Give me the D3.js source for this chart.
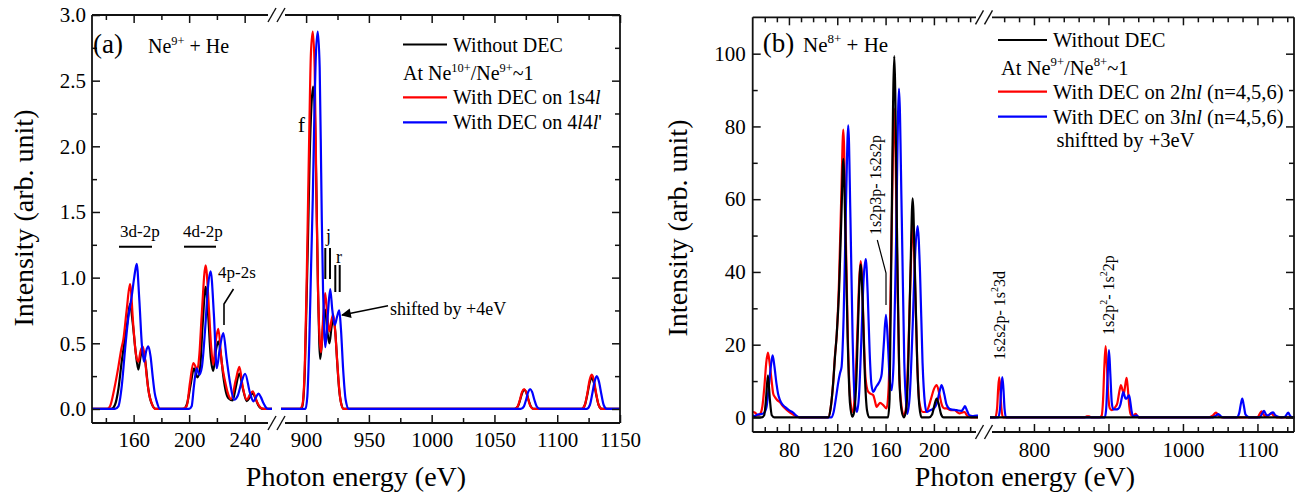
<!DOCTYPE html>
<html>
<head>
<meta charset="utf-8">
<script src="https://cdn.jsdelivr.net/npm/d3@7"></script>
</head>
<body style="margin:0;background:#fff">
<svg id="chart" width="1303" height="495"></svg>
<script>
// ---------- Panel (a): Ne9+ + He, spectra as [photon energy eV, intensity] ----------
const aBlackLow = [[130,0],[144,0],[146.5,0.03],[149,0.15],[151.4,0.36],[153.5,0.52],[155.5,0.66],[157.4,0.80],[159.3,0.66],[161.3,0.45],[163.4,0.30],[165,0.40],[166.5,0.45],[168.3,0.37],[170.6,0.15],[173,0.04],[176,0],
  [196,0],[198.5,0.04],[201,0.18],[203.5,0.31],[205.9,0.24],[207.8,0.3],[209.6,0.62],[211.9,0.93],[213.8,0.7],[215.5,0.4],[217.4,0.29],[219.2,0.44],[221,0.515],[222.8,0.42],[224.6,0.25],[226.5,0.13],[228.5,0.08],[231.4,0.065],[233.5,0.16],[236.2,0.27],[238.6,0.16],[241.5,0.06],[243.8,0.09],[245.8,0.12],[247.8,0.08],[250,0.025],[253,0],[262,0]];
const aRedLow = [[130,0],[141,0],[143,0.02],[146,0.15],[149,0.32],[151,0.45],[152.6,0.53],[155,0.755],[157.4,0.95],[159.8,0.63],[161.6,0.42],[163.4,0.36],[165,0.44],[166.5,0.476],[168,0.4],[169.4,0.25],[171.2,0.11],[173,0.045],[175.5,0],
  [195,0],[198.2,0.02],[200.6,0.2],[203,0.35],[205.9,0.3],[207.4,0.42],[209,0.705],[211.9,1.093],[214.3,0.755],[215.8,0.48],[217.4,0.337],[219.2,0.52],[221,0.61],[223.5,0.35],[225.9,0.21],[227.9,0.12],[230.2,0.075],[233.6,0.22],[236.2,0.32],[238.6,0.17],[241.5,0.07],[243.8,0.11],[245.8,0.134],[248.7,0.058],[251.5,0.01],[254,0],[262,0]];
const aBlueLow = [[130,0],[146.5,0],[149,0.02],[151.5,0.18],[153.8,0.45],[156.2,0.7],[158.6,0.857],[160.4,1.0],[162.2,1.105],[164.1,0.83],[166,0.48],[167.5,0.36],[169,0.44],[170.6,0.476],[172.2,0.4],[173.7,0.25],[175.2,0.12],[176.6,0.058],[179,0],
  [200,0],[201.8,0.02],[203.5,0.18],[205.4,0.31],[207.3,0.26],[209.2,0.32],[211.6,0.62],[213.6,0.93],[215.5,1.047],[217.9,0.705],[219.9,0.31],[222.2,0.47],[224.6,0.578],[227.1,0.375],[229.5,0.198],[232.4,0.07],[235,0.1],[237.9,0.21],[240.3,0.268],[243.9,0.12],[246.3,0.058],[248.2,0.09],[249.9,0.116],[251.7,0.09],[253.5,0.045],[255.5,0.01],[257,0],[262,0]];

const aBlackHigh = [[880,0],[895.5,0],[897,0.02],[899,0.3],[900.3,0.8],[901.5,1.3],[902.8,1.9],[904.2,2.3],[905.6,2.455],[907,2.25],[908.3,1.6],[909.5,0.9],[910.5,0.5],[911.2,0.38],[912.5,0.5],[914,0.7],[915.2,0.756],[916.8,0.6],[918.6,0.5],[920.2,0.62],[921.8,0.69],[923.3,0.58],[924.8,0.35],[926.3,0.15],[928,0.04],[930,0],
  [1066,0],[1068.7,0.02],[1070.5,0.07],[1072.2,0.125],[1073.8,0.145],[1075.4,0.125],[1077.1,0.07],[1078.9,0.02],[1081,0],
  [1119.5,0],[1122,0.03],[1124,0.11],[1125.8,0.2],[1127.5,0.24],[1129.2,0.2],[1131,0.11],[1133,0.03],[1135.5,0],[1150,0]];
const aRedHigh = [[880,0],[895,0],[897,0.03],[899,0.35],[900.3,0.9],[901.3,1.44],[902.5,2.1],[903.8,2.7],[905.3,2.874],[906.8,2.6],[908,1.8],[908.5,1.44],[909.5,0.9],[910.7,0.55],[911.9,0.43],[913.5,0.68],[915.2,0.883],[916.8,0.72],[918.6,0.59],[920.1,0.67],[921.6,0.72],[923.1,0.6],[924.5,0.4],[925.8,0.22],[927.5,0.06],[929.8,0],
  [1066,0],[1068.5,0.02],[1070.3,0.07],[1072,0.13],[1073.6,0.152],[1075.2,0.13],[1077,0.07],[1078.7,0.02],[1081,0],
  [1119.5,0],[1122,0.03],[1124,0.12],[1125.8,0.22],[1127.5,0.261],[1129.2,0.22],[1131,0.12],[1133,0.03],[1135.5,0],[1150,0]];
const aBlueHigh = [[880,0],[899.5,0],[901,0.1],[902.5,0.5],[904,1.1],[905.3,1.6],[906.5,2.2],[907.8,2.7],[909.3,2.874],[910.8,2.6],[912,1.8],[912.5,1.44],[913.5,0.9],[914.4,0.6],[915.3,0.47],[917.3,0.72],[919.2,0.913],[920.9,0.75],[922.8,0.64],[924.6,0.7],[926.4,0.75],[927.8,0.6],[929.5,0.3],[931.5,0.07],[934,0],
  [1071,0],[1073.5,0.02],[1075.2,0.07],[1076.9,0.13],[1078.4,0.152],[1080,0.13],[1081.8,0.07],[1083.6,0.02],[1086,0],
  [1123.5,0],[1126,0.03],[1128,0.12],[1129.8,0.21],[1131.5,0.25],[1133.2,0.21],[1135,0.12],[1137,0.03],[1139.5,0],[1150,0]];

const aYMajor = [0, 0.5, 1.0, 1.5, 2.0, 2.5, 3.0];
const aYMinor = [0.25, 0.75, 1.25, 1.75, 2.25, 2.75];
const aXLowMajor = [160, 200, 240];
const aXLowMinor = [140, 180, 220];
const aXHighMajor = [900, 950, 1000, 1050, 1100, 1150];
const aXHighMinor = [925, 975, 1025, 1075, 1125];

// ---------- Panel (b): Ne8+ + He ----------
const bBlackLow = [[50,0],[57.5,0],[59.5,0.6],[61,5],[62.6,11.6],[64.2,5],[65.8,0.6],[68,0],
  [112.5,0],[114.5,2.5],[116.5,9],[118.1,16.6],[119.6,23],[121.5,35],[123.4,55],[125,71.1],[126.8,50],[128.6,22],[130.5,4],[132.4,0.2],
  [134,1.5],[136,12],[137.8,32],[139.4,42.1],[141,32],[142.8,12],[144.6,2],[146.5,0],
  [162,0],[163.3,5],[164.9,50],[167.2,99.3],[169.5,50],[171.3,12],[173.2,2],[175.2,0],
  [177,2],[178.8,15],[180.6,40],[182.4,60.2],[184.3,40],[186.2,15],[188,3],[189.8,0],
  [196,0],[198.5,0.8],[200.5,3.5],[202.3,5.2],[204.1,3.5],[206,0.8],[208,0],[238,0]];
const bRedLow = [[50,1.5],[52,1.3],[54,0.6],[56,0.9],[58,3],[59.8,9],[61.2,15],[62.6,17.8],[64,15],[65.7,10],[67,6.5],[68.4,5.6],[70.5,4.7],[72.6,4.2],[74.6,3.3],[76.7,2.5],[80.9,1.3],[86.4,0.3],[90,0],
  [112.5,0],[114.5,2.5],[116.5,9],[118.1,17],[119.6,23],[121.5,38],[123.4,62],[125,79.1],[126.8,55],[128.6,24],[130.5,6],[132.9,1.5],
  [134.8,8],[136.8,25],[138.2,38],[139.4,43],[141,33],[142.4,18],[143.5,10.5],[145.7,7.0],[147.8,6.5],[149.8,6.1],[151.2,4.5],[152.6,2.9],[154,3.5],[155.4,4.0],[158.1,3.4],[160.8,2.5],
  [162.5,8],[164.7,45],[167.2,84.9],[169.5,45],[171.3,12],[173.2,3],[175.2,0.5],
  [177,3],[178.8,18],[180.6,38],[182.4,53.5],[184.3,38],[186.2,15],[188,4],[190.8,1.5],[193,1.5],[195.2,2.5],
  [197.5,5],[200,7.8],[202.3,8.9],[204.5,6.5],[206.5,3.5],[208.5,2.5],[210.5,2.5],[214,2.0],[217.2,2.0],[219.5,1.4],[221.3,1.1],[223.5,1.4],[225.4,1.5],[227,0.7],[228.2,0.3],[231,0],[238,0]];
const bBlueLow = [[50,0.5],[52,0.4],[54,0.8],[57,0.9],[59.5,1.3],[61.5,3],[63.5,9],[65,14],[66.5,17.1],[68,14],[69.8,9],[71,6.5],[72.6,4.75],[74.5,3.6],[76.7,2.9],[80,2.0],[83.6,1.3],[86,0.5],[88.5,0],
  [115,0],[117,1.5],[119,5.5],[121,10],[122.3,12.2],[123.6,14],[125.3,28],[127.2,58],[129.1,80.3],[130.9,55],[132.7,22],[134.4,5],[136.2,1.5],
  [138,6],[140,22],[141.8,38],[143.6,43.5],[145.2,34],[146.8,18],[148.3,9],[149.8,7.0],[152,8.3],[154,9.3],[155.4,10.2],[156.8,12],[158.5,20],[160.3,28.2],[162,20],[163.5,10],[165,7.5],
  [166.6,15],[168.5,45],[171.1,90.4],[173.4,55],[175.5,15],[177.9,1],
  [180,6],[182.4,25],[184.5,45],[186.5,52.6],[188.5,40],[190.6,15],[192.5,4],[194,1.5],
  [197,2],[200,2.5],[202.5,4],[204.6,7],[206.4,8.9],[208.5,6.5],[210.5,3.5],[213.3,2.3],[218.8,2.0],[223,1.8],[224.5,2.5],[225.7,3.1],[227.3,2],[229.3,0.6],[232,0.4],[235.3,0.5],[238,0.5]];

const bBlackHigh = [[741,0],[1150,0]];
const bRedHigh = [[741,0],[748,0],[750.5,2.5],[752,8],[753.4,11.0],[754.8,8],[756.3,2.5],[758.5,0],
  [868,0],[871,0.3],[874,0.3],[877,0],[888,0],[890.9,0.5],[892.8,5],[894.5,14],[896.2,19.6],[898,14],[899.8,6],[901.8,2.5],[904.3,2.0],[906.5,2.3],[909,2.8],[912,4],[914.5,7],[916.8,8.9],[918.8,7.6],[920.8,6.6],[922.6,9],[924.4,10.9],[926,8],[928,3],[930,0.8],[933,0.4],[936.6,1.0],[939,0.3],[942,0],
  [1035,0],[1040,0.5],[1044.3,1.3],[1048,0.5],[1052,0],
  [1100,0],[1102.5,0.8],[1105.4,1.7],[1108,0.8],[1111,0.3],[1115,0.6],[1118.8,1.1],[1122,0.4],[1126,0],[1150,0]];
const bBlueHigh = [[741,0],[752,0],[754.5,2.5],[756,8],[757.5,11.1],[759,8],[760.5,2.5],[762.5,0],
  [895,0],[896.8,2],[898.8,11],[900.7,18.5],[902.5,12],[904.5,4],[906.5,2.2],[910,2.2],[913.3,2.4],[916,3.5],[918,5.5],[919.9,7.0],[921.5,6],[922.8,5.2],[924.4,5.2],[926,5.7],[927.7,6.1],[929.2,4.5],[931,1.8],[933.3,0.3],[935.5,0.4],[937.8,0.6],[941,0],
  [1040,0],[1044,0.5],[1047.5,0.9],[1051,0.3],[1055,0],
  [1072,0],[1075.5,1.2],[1077.8,3.8],[1079.7,5.2],[1081.5,3.5],[1084,0.8],[1087,0.2],[1090,0],
  [1103,0],[1106,1],[1108.9,1.8],[1111.5,0.8],[1114,0.5],[1117,1],[1121,1.4],[1124,0.6],[1128,0.2],[1132,0],[1137,0.2],[1141.2,1.3],[1144,0.4],[1147,0],[1150,0]];

const bYMajor = [0, 20, 40, 60, 80, 100];
const bYMinor = [10, 30, 50, 70, 90];
const bXLowMajor = [80, 120, 160, 200];
const bXLowMinor = [60, 70, 90, 100, 110, 130, 140, 150, 170, 180, 190, 210, 220, 230];
const bXHighMajor = [800, 900, 1000, 1100];
const bXHighMinor = [760, 780, 820, 840, 860, 880, 920, 940, 960, 980, 1020, 1040, 1060, 1080, 1120, 1140];

const seriesColors = { without: "#000000", dec1: "#ff0000", dec2: "#0000ff" };

// ---------- drawing ----------
const FONT = "Liberation Serif";
const svg = d3.select("#chart").style("font-family", FONT);

// text with superscript / italic runs: parts = [[string, kind], ...]
function rich(parent, parts, size) {
  const t = parent.append("text").attr("font-size", size)
    .style("font-family", FONT).style("white-space", "pre").attr("fill", "#000");
  let shift = 0;
  parts.forEach(([str, kind]) => {
    const target = kind === "sup" ? -0.42 * size : 0;
    const ts = t.append("tspan").text(str);
    if (target - shift !== 0) ts.attr("dy", target - shift);
    shift = target;
    if (kind === "sup") ts.attr("font-size", size * 0.62);
    if (kind === "i") ts.attr("font-style", "italic");
  });
  return t;
}
function label(parent, str, size) {
  return parent.append("text").attr("font-size", size)
    .style("font-family", FONT).attr("fill", "#000").text(str);
}

function styleAxis(sel, size) {
  sel.attr("font-size", size).attr("color", "#111").style("font-family", FONT);
  sel.select(".domain").remove();
  sel.selectAll("line").attr("stroke-width", 1.5);
  sel.selectAll("text").attr("fill", "#000").style("font-family", FONT);
}

function drawPanel(p) {
  const g = svg.append("g");
  const y = d3.scaleLinear().domain(p.yDomain).range([p.bottom, p.top]);
  const segs = p.segments.map(s => Object.assign({}, s, { x: d3.scaleLinear().domain(s.domain).range(s.range) }));

  segs.forEach((s, i) => {
    const id = p.id + "-clip-" + i;
    svg.append("clipPath").attr("id", id).append("rect")
      .attr("x", s.range[0]).attr("y", p.top)
      .attr("width", s.range[1] - s.range[0]).attr("height", p.bottom - p.top);
    const cg = g.append("g").attr("clip-path", `url(#${id})`);
    p.series.forEach(ser => {
      const line = d3.line().x(d => s.x(d[0])).y(d => y(d[1])).curve(d3.curveMonotoneX);
      cg.append("path").attr("d", line(ser.data[i]))
        .attr("fill", "none").attr("stroke", ser.color)
        .attr("stroke-width", 2.2).attr("stroke-linejoin", "round");
    });

    // bottom axis (labels) + minor, top mirrored ticks
    g.append("g").attr("transform", `translate(0,${p.bottom})`)
      .call(d3.axisBottom(s.x).tickValues(s.major).tickSize(-8).tickSizeOuter(0).tickPadding(p.xPad).tickFormat(d3.format("d")))
      .call(a => styleAxis(a, p.tickSize));
    g.append("g").attr("transform", `translate(0,${p.bottom})`)
      .call(d3.axisBottom(s.x).tickValues(s.minor).tickSize(-5).tickSizeOuter(0).tickFormat(""))
      .call(a => styleAxis(a, p.tickSize));
    g.append("g").attr("transform", `translate(0,${p.top})`)
      .call(d3.axisTop(s.x).tickValues(s.major).tickSize(-8).tickSizeOuter(0).tickFormat(""))
      .call(a => styleAxis(a, p.tickSize));
    g.append("g").attr("transform", `translate(0,${p.top})`)
      .call(d3.axisTop(s.x).tickValues(s.minor).tickSize(-5).tickSizeOuter(0).tickFormat(""))
      .call(a => styleAxis(a, p.tickSize));
  });

  // y axes
  g.append("g").attr("transform", `translate(${p.left},0)`)
    .call(d3.axisLeft(y).tickValues(p.yMajor).tickSize(-8).tickSizeOuter(0).tickPadding(p.yPad).tickFormat(d3.format(p.yFormat)))
    .call(a => styleAxis(a, p.tickSize));
  g.append("g").attr("transform", `translate(${p.left},0)`)
    .call(d3.axisLeft(y).tickValues(p.yMinor).tickSize(-5).tickSizeOuter(0).tickFormat(""))
    .call(a => styleAxis(a, p.tickSize));
  g.append("g").attr("transform", `translate(${p.right},0)`)
    .call(d3.axisRight(y).tickValues(p.yMajor).tickSize(-8).tickSizeOuter(0).tickFormat(""))
    .call(a => styleAxis(a, p.tickSize));
  g.append("g").attr("transform", `translate(${p.right},0)`)
    .call(d3.axisRight(y).tickValues(p.yMinor).tickSize(-5).tickSizeOuter(0).tickFormat(""))
    .call(a => styleAxis(a, p.tickSize));

  // frame with a gap at the axis break
  const frame = g.append("g").attr("stroke", "#111").attr("stroke-width", 1.8).attr("fill", "none");
  frame.append("line").attr("x1", p.left).attr("x2", p.left).attr("y1", p.top).attr("y2", p.bottom);
  frame.append("line").attr("x1", p.right).attr("x2", p.right).attr("y1", p.top).attr("y2", p.bottom);
  [p.top, p.bottom].forEach(yy => {
    frame.append("line").attr("x1", p.left).attr("x2", p.gap[0]).attr("y1", yy).attr("y2", yy);
    frame.append("line").attr("x1", p.gap[1]).attr("x2", p.right).attr("y1", yy).attr("y2", yy);
    // break marks "//"
    const cx = (p.gap[0] + p.gap[1]) / 2;
    [-4.5, 4.5].forEach(dx => {
      frame.append("line").attr("stroke-width", 1.4)
        .attr("x1", cx + dx - 4).attr("y1", yy + 7)
        .attr("x2", cx + dx + 4).attr("y2", yy - 7);
    });
  });

  // axis titles
  label(g, "Photon energy (eV)", p.titleSize).attr("text-anchor", "middle")
    .attr("x", p.xTitle[0]).attr("y", p.xTitle[1]);
  label(g, "Intensity (arb. unit)", p.titleSize).attr("text-anchor", "middle")
    .attr("transform", `translate(${p.yTitle[0]},${p.yTitle[1]}) rotate(-90)`);

  // legend
  p.legend.forEach(item => {
    if (item.color) {
      g.append("line").attr("x1", item.line[0]).attr("x2", item.line[1])
        .attr("y1", item.line[2]).attr("y2", item.line[2])
        .attr("stroke", item.color).attr("stroke-width", 2.2);
    }
    rich(g, item.parts, p.legendSize).attr("x", item.text[0]).attr("y", item.text[1]);
  });
  return g;
}

// ---------- panel (a) ----------
const ga = drawPanel({
  id: "a", left: 92, right: 620, top: 15, bottom: 423,
  yDomain: [-0.107, 3.0], yMajor: aYMajor, yMinor: aYMinor, yFormat: ".1f", yPad: 6, xPad: 9,
  tickSize: 21, titleSize: 28, legendSize: 20,
  gap: [268, 285],
  segments: [
    { domain: [130, 259.7], range: [92, 272], major: aXLowMajor, minor: aXLowMinor },
    { domain: [880, 1150], range: [281, 620], major: aXHighMajor, minor: aXHighMinor }
  ],
  series: [
    { color: seriesColors.without, data: [aBlackLow, aBlackHigh] },
    { color: seriesColors.dec1, data: [aRedLow, aRedHigh] },
    { color: seriesColors.dec2, data: [aBlueLow, aBlueHigh] }
  ],
  xTitle: [356, 486], yTitle: [33, 218],
  legend: [
    { color: seriesColors.without, line: [403, 447, 44.5], text: [453, 51.7], parts: [["Without DEC"]] },
    { text: [403, 80], parts: [["At Ne"], ["10+", "sup"], ["/Ne"], ["9+", "sup"], ["~1"]] },
    { color: seriesColors.dec1, line: [403, 447, 97.3], text: [453, 104], parts: [["With DEC on 1s4"], ["l", "i"]] },
    { color: seriesColors.dec2, line: [403, 447, 122.3], text: [453, 129], parts: [["With DEC on 4"], ["l", "i"], ["4"], ["l", "i"], ["'"]] }
  ]
});

label(ga, "(a)", 27).attr("x", 93).attr("y", 53);
rich(ga, [["Ne"], ["9+", "sup"], [" + He"]], 20).attr("x", 148).attr("y", 53);
label(ga, "f", 21).attr("x", 298).attr("y", 132);
label(ga, "3d-2p", 17).attr("x", 120).attr("y", 237);
label(ga, "4d-2p", 17).attr("x", 183).attr("y", 237);
label(ga, "4p-2s", 17).attr("x", 218).attr("y", 278);
label(ga, "j", 18).attr("x", 326).attr("y", 242);
label(ga, "r", 18).attr("x", 336).attr("y", 263);
label(ga, "shifted by +4eV", 18).attr("x", 390).attr("y", 315);
const marks = ga.append("g").attr("stroke", "#000").attr("fill", "none");
marks.append("line").attr("x1", 119).attr("x2", 152).attr("y1", 246.7).attr("y2", 246.7).attr("stroke-width", 2);
marks.append("line").attr("x1", 184).attr("x2", 216).attr("y1", 246.7).attr("y2", 246.7).attr("stroke-width", 2);
marks.append("polyline").attr("points", "233.5,289 224,304 224,325").attr("stroke-width", 1.6);
[[325.3, 248, 279], [330, 248, 279], [335.3, 265, 292], [339.7, 265, 292]].forEach(([x, y1, y2]) => {
  marks.append("line").attr("x1", x).attr("x2", x).attr("y1", y1).attr("y2", y2).attr("stroke-width", 2);
});
svg.append("defs").append("marker").attr("id", "arrowHead")
  .attr("viewBox", "0 0 10 10").attr("refX", 9).attr("refY", 5)
  .attr("markerWidth", 9).attr("markerHeight", 7).attr("orient", "auto")
  .append("path").attr("d", "M0,0 L10,5 L0,10 z").attr("fill", "#000");
marks.append("line").attr("x1", 388).attr("y1", 305.7).attr("x2", 342).attr("y2", 315)
  .attr("stroke-width", 1.4).attr("marker-end", "url(#arrowHead)");

// ---------- panel (b) ----------
const gb = drawPanel({
  id: "b", left: 752.7, right: 1294, top: 17.3, bottom: 432,
  yDomain: [-4, 110], yMajor: bYMajor, yMinor: bYMinor, yFormat: "d", yPad: 7, xPad: 10,
  tickSize: 21, titleSize: 28, legendSize: 20.5,
  gap: [976, 992],
  segments: [
    { domain: [50, 236.5], range: [752.7, 978], major: bXLowMajor, minor: bXLowMinor },
    { domain: [741, 1150], range: [990, 1294.7], major: bXHighMajor, minor: bXHighMinor }
  ],
  series: [
    { color: seriesColors.dec1, data: [bRedLow, bRedHigh] },
    { color: seriesColors.dec2, data: [bBlueLow, bBlueHigh] },
    { color: seriesColors.without, data: [bBlackLow, bBlackHigh] }
  ],
  xTitle: [1025, 486], yTitle: [687, 228],
  legend: [
    { color: seriesColors.without, line: [998, 1047, 40], text: [1053, 47], parts: [["Without DEC"]] },
    { text: [1001, 74.5], parts: [["At Ne"], ["9+", "sup"], ["/Ne"], ["8+", "sup"], ["~1"]] },
    { color: seriesColors.dec1, line: [998, 1047, 91.7], text: [1053, 99], parts: [["With DEC on 2"], ["l", "i"], ["n"], ["l", "i"], [" (n=4,5,6)"]] },
    { color: seriesColors.dec2, line: [998, 1047, 116.7], text: [1053, 124], parts: [["With DEC on 3"], ["l", "i"], ["n"], ["l", "i"], [" (n=4,5,6)"]] },
    { text: [1056.5, 146.7], parts: [["shiftted by +3eV"]] }
  ]
});

label(gb, "(b)", 27).attr("x", 762.7).attr("y", 52);
rich(gb, [["Ne"], ["8+", "sup"], [" + He"]], 21).attr("x", 803).attr("y", 52);
rich(gb, [["1s2p3p- 1s2s2p"]], 16).attr("transform", "translate(881,235) rotate(-90)");
rich(gb, [["1s2s2p- 1s"], ["2", "sup"], ["3d"]], 16).attr("transform", "translate(1005,360) rotate(-90)");
rich(gb, [["1s2p"], ["2", "sup"], ["- 1s"], ["2", "sup"], ["2p"]], 16).attr("transform", "translate(1114,335) rotate(-90)");
gb.append("polyline").attr("points", "877.3,240 886,273 886,305")
  .attr("fill", "none").attr("stroke", "#000").attr("stroke-width", 1.2);
</script>
</body>
</html>
